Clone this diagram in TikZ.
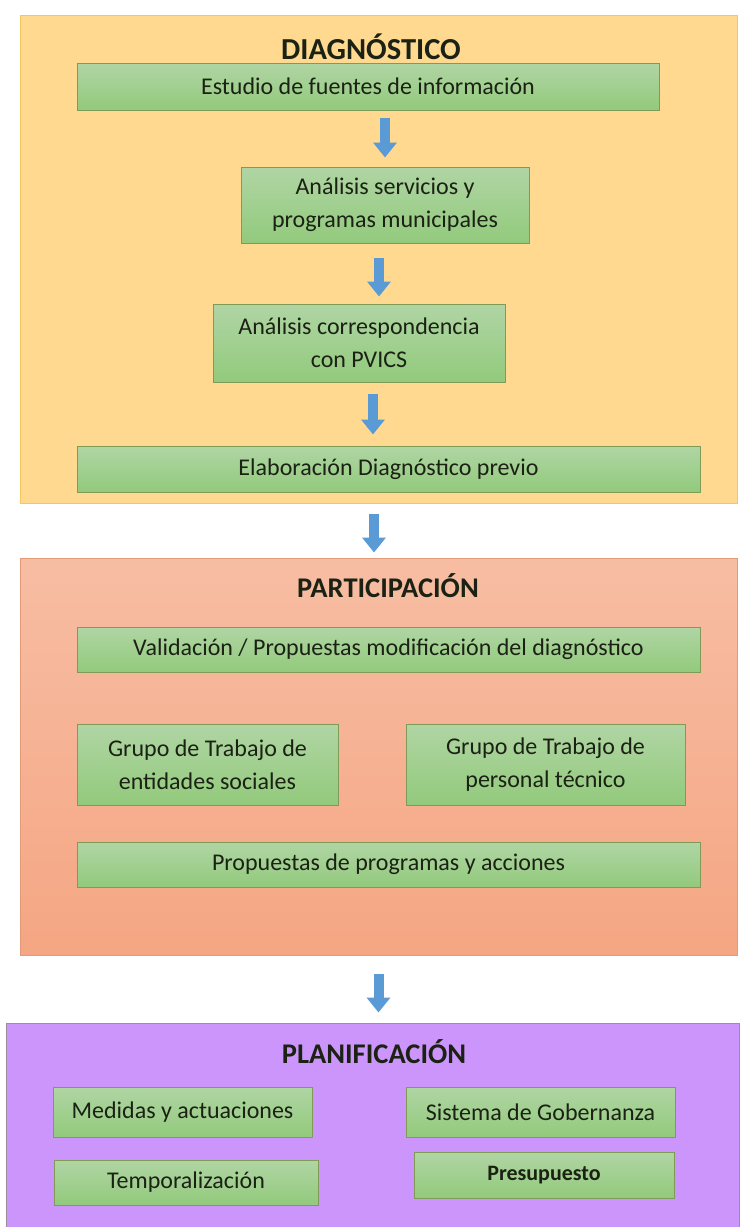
\documentclass[tikz,border=0pt]{standalone}
\usepackage{fontspec}
\setmainfont{Carlito}
\usetikzlibrary{arrows.meta,positioning}

\definecolor{diagfill}{HTML}{FFD98F}
\definecolor{diagline}{HTML}{F3C85E}
\definecolor{partitop}{HTML}{F7BDA3}
\definecolor{partibot}{HTML}{F5A683}
\definecolor{partiline}{HTML}{E39A78}
\definecolor{planifill}{HTML}{CC95FB}
\definecolor{planiline}{HTML}{9C8E9E}
\definecolor{boxtop}{HTML}{B0D5A4}
\definecolor{boxbot}{HTML}{92CA7C}
\definecolor{boxline}{HTML}{809A58}
\definecolor{arrowblue}{HTML}{5B9BD5}
\definecolor{ink}{HTML}{1B2214}

\begin{document}
\begin{tikzpicture}[x=1pt,y=-1pt,
    title/.style={font=\bfseries\fontsize{28.5}{34}\selectfont, text=ink, inner sep=0pt},
    box/.style={draw=boxline, line width=1pt, top color=boxtop, bottom color=boxbot,
      align=center, font=\fontsize{24}{33}\selectfont, text=ink, inner sep=2pt},
    flow/.style={draw=arrowblue, line width=10pt, -{Triangle[length=15pt,width=23pt]}}]
    \path[use as bounding box, fill=white] (0,0) rectangle (742,1227);

    % the three stages
    \node[draw=diagline, line width=1pt, fill=diagfill, minimum width=717pt, minimum height=488pt, inner sep=0pt] (diag) at (378.5,259) {};
    \node[draw=partiline, line width=1pt, top color=partitop, bottom color=partibot, minimum width=717pt, minimum height=397pt, inner sep=0pt] (parti) at (378.5,756.5) {};
    \node[draw=planiline, line width=1pt, fill=planifill, minimum width=733pt, minimum height=212pt, inner sep=0pt] (plani) at (372.5,1129) {};

    \node[title, font=\bfseries\fontsize{30.5}{36}\selectfont] (diagtitle) at (371,47) {DIAGNÓSTICO};
    \node[title] (partititle) at (388,586) {PARTICIPACIÓN};
    \node[title] (planititle) at (374,1052) {PLANIFICACIÓN};

    \node[box, minimum width=582pt, minimum height=47pt] (estudio) at (368,86.5) {Estudio de fuentes de información};
    \node[box, minimum width=288pt, minimum height=76pt] (analisis) at (385,205) {Análisis servicios y\\programas municipales};
    \node[box, minimum width=292pt, minimum height=78pt] (corresp) at (359,343) {Análisis correspondencia\\con PVICS};
    \node[box, minimum width=623pt, minimum height=46pt] (elabora) at (388.5,469) {Elaboración Diagnóstico previo};

    \node[box, minimum width=623pt, minimum height=45pt] (valida) at (388.5,649.5) {Validación / Propuestas modificación del diagnóstico};
    \node[box, minimum width=261pt, minimum height=81pt] (entidades) at (207.5,764.5) {Grupo de Trabajo de\\entidades sociales};
    \node[box, minimum width=279pt, minimum height=81pt] (tecnico) at (545.5,764.5) {Grupo de Trabajo de\\personal técnico};
    \node[box, minimum width=623pt, minimum height=45pt] (propuestas) at (388.5,864.5) {Propuestas de programas y acciones};

    \node[box, minimum width=259pt, minimum height=50pt] (medidas) at (182.5,1112) {Medidas y actuaciones};
    \node[box, minimum width=269pt, minimum height=50pt] (sistema) at (540.5,1112) {Sistema de Gobernanza};
    \node[box, minimum width=264pt, minimum height=45pt] (temporal) at (186,1182.5) {Temporalización};
    \node[box, minimum width=260pt, minimum height=46pt, font=\bfseries\fontsize{22}{26}\selectfont] (presup) at (544,1175) {Presupuesto};

    \draw[flow, shorten <=7pt, shorten >=9pt] (estudio.south -| analisis.north) -- (analisis.north);
    \draw[flow, shorten <=14pt, shorten >=7pt] ([xshift=-6pt]analisis.south) -- ([xshift=20pt]corresp.north);
    \draw[flow, shorten <=11pt, shorten >=11pt] ([xshift=14pt]corresp.south) -- ([xshift=-15.5pt]elabora.north);
    \draw[flow, shorten <=10pt, shorten >=5pt] ([xshift=-4.5pt]diag.south) -- ([xshift=-4.5pt]parti.north);
    \draw[flow, shorten <=18pt, shorten >=10pt] (parti.south) -- (parti.south |- plani.north);

  \end{tikzpicture}
\end{document}
